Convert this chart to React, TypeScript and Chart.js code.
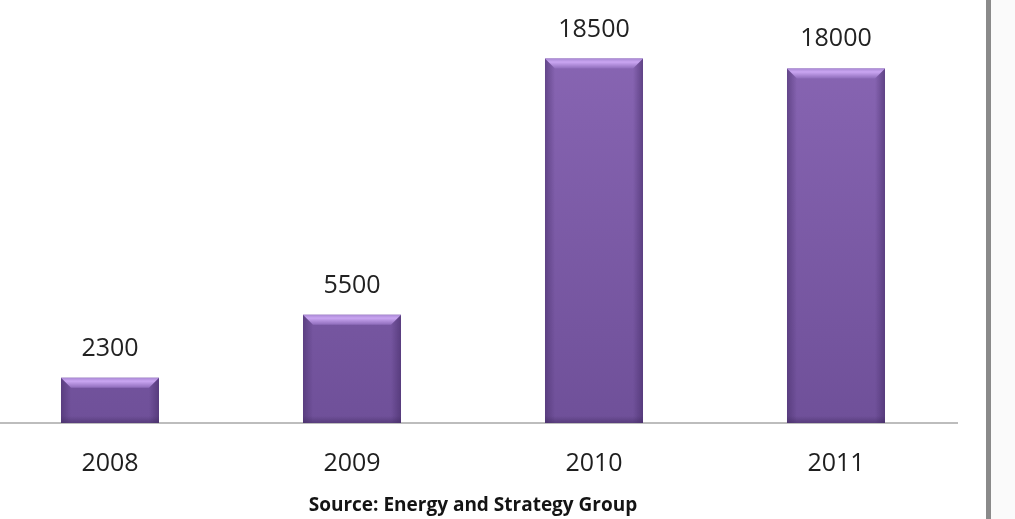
import React, { useEffect, useRef } from "react";
import { Chart, registerables } from "chart.js";

Chart.register(...registerables);

const categories = ["2008", "2009", "2010", "2011"];
const values = [2300, 5500, 18500, 18000];
const sourceText = "Source: Energy and Strategy Group";

const FONT = "'Open Sans', 'Noto Sans', sans-serif";

const bevelPlugin = {
  id: "bevel",
  afterDatasetsDraw(chart: any) {
    const ctx = chart.ctx;
    const meta = chart.getDatasetMeta(0);
    meta.data.forEach((bar: any, i: number) => {
      const { x, y, base, width } = bar.getProps(["x", "y", "base", "width"], true);
      const l = x - width / 2;
      const r = x + width / 2;
      const b = 10;
      ctx.save();
      // left side darker strip
      let g = ctx.createLinearGradient(l, 0, l + b, 0);
      g.addColorStop(0, "rgba(70,45,105,0.55)");
      g.addColorStop(1, "rgba(70,45,105,0)");
      ctx.fillStyle = g;
      ctx.beginPath();
      ctx.moveTo(l, y);
      ctx.lineTo(l + b, y + b);
      ctx.lineTo(l + b, base);
      ctx.lineTo(l, base);
      ctx.closePath();
      ctx.fill();
      // right side darker strip
      g = ctx.createLinearGradient(r, 0, r - b, 0);
      g.addColorStop(0, "rgba(70,45,105,0.6)");
      g.addColorStop(1, "rgba(70,45,105,0)");
      ctx.fillStyle = g;
      ctx.beginPath();
      ctx.moveTo(r, y);
      ctx.lineTo(r - b, y + b);
      ctx.lineTo(r - b, base);
      ctx.lineTo(r, base);
      ctx.closePath();
      ctx.fill();
      // bottom darker strip
      g = ctx.createLinearGradient(0, base, 0, base - 7);
      g.addColorStop(0, "rgba(60,38,90,0.45)");
      g.addColorStop(1, "rgba(60,38,90,0)");
      ctx.fillStyle = g;
      ctx.fillRect(l, base - 7, width, 7);
      // top bevel
      g = ctx.createLinearGradient(0, y, 0, y + b);
      g.addColorStop(0, "#a887d3");
      g.addColorStop(0.35, "#caa6f2");
      g.addColorStop(1, "#8f6dbb");
      ctx.fillStyle = g;
      ctx.beginPath();
      ctx.moveTo(l, y);
      ctx.lineTo(r, y);
      ctx.lineTo(r - b, y + b);
      ctx.lineTo(l + b, y + b);
      ctx.closePath();
      ctx.fill();
      // value label
      ctx.fillStyle = "#222222";
      ctx.font = `25px ${FONT}`;
      ctx.textAlign = "center";
      ctx.textBaseline = "alphabetic";
      ctx.fillText(String(values[i]), x, y - 22);
      ctx.restore();
    });
  },
};

const framePlugin = {
  id: "frame",
  beforeDraw(chart: any) {
    const ctx = chart.ctx;
    ctx.save();
    ctx.fillStyle = "#ffffff";
    ctx.fillRect(0, 0, chart.width, chart.height);
    ctx.fillStyle = "#fafafa";
    ctx.fillRect(1002, 0, chart.width - 1002, chart.height);
    ctx.fillStyle = "#8a8a8a";
    ctx.fillRect(997, 0, 5, chart.height);
    ctx.restore();
  },
};

export default function App() {
  const ref = useRef<HTMLCanvasElement | null>(null);

  useEffect(() => {
    if (!ref.current) return;
    const chart = new Chart(ref.current, {
      type: "bar",
      data: {
        labels: categories,
        datasets: [
          {
            data: values,
            backgroundColor: (c: any) => {
              const area = c.chart.chartArea;
              if (!area) return "#7d5ba6";
              const g = c.chart.ctx.createLinearGradient(0, area.top, 0, area.bottom);
              g.addColorStop(0, "#8966b4");
              g.addColorStop(1, "#6f5099");
              return g;
            },
            borderWidth: 0,
            barPercentage: 0.405,
            categoryPercentage: 1.0,
          },
        ],
      },
      options: {
        animation: false,
        responsive: false,
        maintainAspectRatio: false,
        events: [],
        layout: { padding: { top: 29, right: 58, left: 0, bottom: 0 } },
        plugins: {
          legend: { display: false },
          tooltip: { enabled: false },
          title: { display: false },
        },
        scales: {
          y: {
            display: false,
            min: 0,
            max: 20000,
          },
          x: {
            grid: { display: false, drawTicks: false },
            border: { display: true, color: "#bdbdbd", width: 2 },
            ticks: {
              color: "#1e1e1e",
              font: { family: FONT, size: 25 },
              padding: 26,
            },
            title: {
              display: true,
              text: sourceText,
              color: "#141414",
              font: { family: FONT, size: 19, weight: "bold" },
              padding: { top: 4, bottom: 2 },
            },
            afterFit: (scale: any) => {
              scale.height = 96;
            },
          },
        },
      },
      plugins: [framePlugin, bevelPlugin],
    });
    return () => chart.destroy();
  }, []);

  return (
    <div style={{ position: "absolute", left: -11, top: 0, width: 1026, height: 519, overflow: "visible" }}>
      <canvas ref={ref} width={1026} height={519} style={{ display: "block", width: 1026, height: 519 }} />
    </div>
  );
}
